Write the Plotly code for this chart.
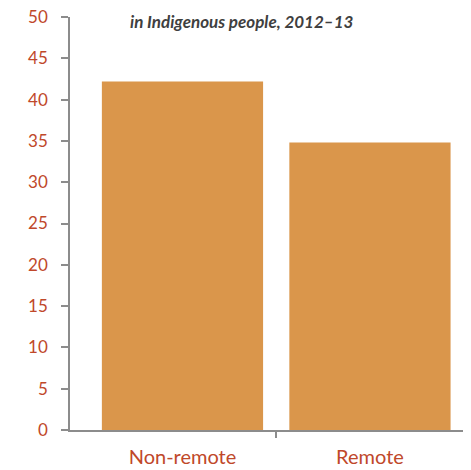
import plotly.graph_objects as go

categories = ["Non-remote", "Remote"]
values = [42.2, 34.8]
y_ticks = [0, 5, 10, 15, 20, 25, 30, 35, 40, 45, 50]
title_text = "in Indigenous people, 2012–13"

label_color = "#C0482A"
axis_color = "#8C8C8C"
bar_color = "#DA964B"
font_family = "Lato, 'Open Sans', sans-serif"

fig = go.Figure()
fig.add_trace(go.Bar(
    x=list(range(len(categories))), y=values,
    marker=dict(color=bar_color, line=dict(width=0)),
    width=0.86, hoverinfo="skip", showlegend=False,
))

fig.update_layout(
    width=463, height=462,
    margin=dict(l=62, r=0, t=9, b=40),
    paper_bgcolor="white", plot_bgcolor="white",
    font=dict(family=font_family, size=16, color=label_color),
    xaxis=dict(
        range=[-0.6, 1.539], automargin=False,
        tickvals=list(range(len(categories))), ticktext=categories,
        ticks="", showline=True, linecolor=axis_color, linewidth=1.5,
        showgrid=False, zeroline=False, fixedrange=True,
        tickfont=dict(size=20, color=label_color), ticklabelstandoff=8,
    ),
    xaxis2=dict(
        overlaying="x", range=[-0.6, 1.539], automargin=False,
        tickvals=[0.5], ticktext=[""], ticks="outside", ticklen=7,
        tickcolor=axis_color, tickwidth=1.5, showline=False,
        showgrid=False, zeroline=False, side="bottom",
    ),
    yaxis=dict(
        range=[0, 50], tickvals=y_ticks, automargin=False,
        ticks="outside", ticklen=7, tickcolor=axis_color, tickwidth=1.5,
        showline=True, linecolor=axis_color, linewidth=1.5,
        showgrid=False, zeroline=False, ticklabeloverflow="allow",
        tickfont=dict(size=17, color=label_color), ticklabelstandoff=10,
    ),
    annotations=[dict(
        text="<b><i>" + title_text + "</i></b>",
        xref="paper", yref="paper", x=0.43, y=1.0,
        xanchor="center", yanchor="top", yshift=8,
        showarrow=False, font=dict(size=17, color="#3F3F3F", family=font_family),
    )],
)
# invisible trace to activate the second x axis
fig.add_trace(go.Scatter(x=[0.5], y=[0], xaxis="x2", mode="markers",
                         marker=dict(opacity=0), hoverinfo="skip", showlegend=False))

fig.write_html("out.html")
